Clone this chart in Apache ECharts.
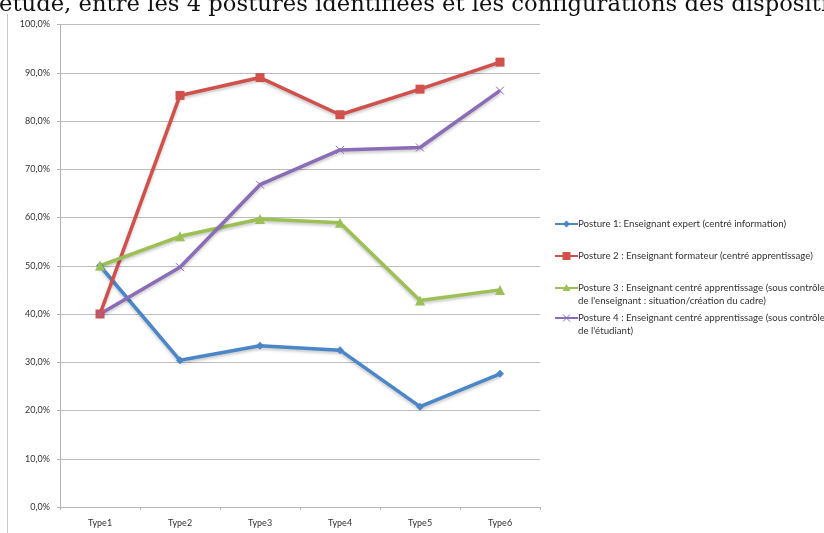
<!DOCTYPE html>
<html>
<head>
<meta charset="utf-8">
<script src="https://cdn.jsdelivr.net/npm/echarts@6/dist/echarts.min.js"></script>
<style>
html,body{margin:0;padding:0;background:#fff;}
#chart{width:824px;height:533px;}
</style>
</head>
<body>
<div id="chart"></div>
<script>
var titleText = "étude, entre les 4 postures identifiées et les configurations des dispositifs";
var categories = ["Type1", "Type2", "Type3", "Type4", "Type5", "Type6"];
var seriesNames = [
  "Posture 1: Enseignant expert (centré information)",
  "Posture 2 : Enseignant formateur (centré apprentissage)",
  "Posture 3 : Enseignant centré apprentissage (sous contrôle\nde l'enseignant : situation/création du cadre)",
  "Posture 4 : Enseignant centré apprentissage (sous contrôle\nde l'étudiant)"
];
var posture1 = [50.0, 30.4, 33.4, 32.5, 20.8, 27.6];
var posture2 = [40.0, 85.3, 89.0, 81.3, 86.6, 92.2];
var posture3 = [50.0, 56.1, 59.7, 58.9, 42.8, 45.0];
var posture4 = [40.0, 49.7, 66.8, 74.0, 74.5, 86.3];
var yTicks = [0, 10, 20, 30, 40, 50, 60, 70, 80, 90, 100];

var colors = ["#4a86c8", "#d0504c", "#9cc055", "#8a6db6"];
var xPath = "path://M0,0L10,10M10,0L0,10";
var symbols = ["diamond", "rect", "triangle", xPath];
var symbolSizes = [8, 9, 10, 8];
var allData = [posture1, posture2, posture3, posture4];

var series = allData.map(function (d, i) {
  return {
    name: seriesNames[i],
    type: "line",
    data: d,
    symbol: symbols[i],
    symbolSize: symbolSizes[i],
    showAllSymbol: true,
    lineStyle: {width: 3.5, color: colors[i], shadowColor: "rgba(0,0,0,0.22)", shadowBlur: 3, shadowOffsetY: 2},
    itemStyle: {color: colors[i], borderColor: colors[i], borderWidth: i === 3 ? 1 : 0},
    emphasis: {disabled: true},
    animation: false
  };
});

// legend drawn as graphic from series names / colors
var legendTops = [224, 256, 288, 318];
var legendGraphics = [];
seriesNames.forEach(function (n, i) {
  var y = legendTops[i];
  var children = [
    {type: "line", shape: {x1: 0, y1: 0, x2: 23, y2: 0}, style: {stroke: colors[i], lineWidth: 2}}
  ];
  var cx = 11.5;
  if (i === 0) children.push({type: "polygon", shape: {points: [[cx, -3.5], [cx + 3.5, 0], [cx, 3.5], [cx - 3.5, 0]]}, style: {fill: colors[i]}});
  if (i === 1) children.push({type: "rect", shape: {x: cx - 4, y: -4, width: 8, height: 8}, style: {fill: colors[i]}});
  if (i === 2) children.push({type: "polygon", shape: {points: [[cx, -4], [cx + 4, 3], [cx - 4, 3]]}, style: {fill: colors[i]}});
  if (i === 3) {
    children.push({type: "line", shape: {x1: cx - 3.5, y1: -3.5, x2: cx + 3.5, y2: 3.5}, style: {stroke: colors[i], lineWidth: 1}});
    children.push({type: "line", shape: {x1: cx + 3.5, y1: -3.5, x2: cx - 3.5, y2: 3.5}, style: {stroke: colors[i], lineWidth: 1}});
  }
  children.push({type: "text", x: 23, y: -6.5, style: {text: n, fill: "#333", font: "9.7px Lato", lineHeight: 13, verticalAlign: "top", align: "left"}});
  legendGraphics.push({type: "group", x: 555, y: y, children: children});
});

var chart = echarts.init(document.getElementById("chart"), null, {renderer: "canvas"});
chart.setOption({
  backgroundColor: "#fff",
  animation: false,
  color: colors,
  grid: {left: 60, right: 284, top: 24.5, bottom: 26, containLabel: false},
  xAxis: {
    type: "category",
    data: categories,
    boundaryGap: true,
    axisLine: {lineStyle: {color: "#b5b5b5", width: 1}},
    axisTick: {show: true, length: 3, lineStyle: {color: "#b5b5b5"}},
    axisLabel: {color: "#333", fontFamily: "Lato", fontSize: 9, margin: 12}
  },
  yAxis: {
    type: "value",
    min: yTicks[0],
    max: yTicks[yTicks.length - 1],
    interval: 10,
    axisLine: {show: true, lineStyle: {color: "#b5b5b5", width: 1}},
    axisTick: {show: true, length: 3, lineStyle: {color: "#b5b5b5"}},
    splitLine: {lineStyle: {color: "#bdbdbd", width: 1}},
    axisLabel: {color: "#333", fontFamily: "Lato", fontSize: 9, margin: 10,
      formatter: function (v) { return v.toFixed(1).replace(".", ",") + "%"; }}
  },
  graphic: [
    {type: "text", x: -1, y: 17, style: {text: titleText, fill: "#111", font: "22.7px 'DejaVu Serif'", verticalAlign: "bottom", align: "left"}},
    {type: "line", shape: {x1: 7.5, y1: 14, x2: 7.5, y2: 533}, style: {stroke: "#c8c8c8", lineWidth: 1}}
  ].concat(legendGraphics),
  series: series
});
</script>
</body>
</html>
